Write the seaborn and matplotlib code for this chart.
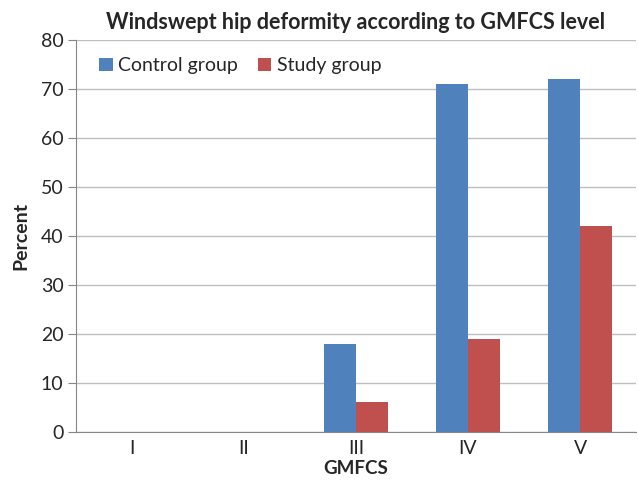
import matplotlib
matplotlib.use("Agg")
import matplotlib.pyplot as plt
import seaborn as sns
import pandas as pd

categories = ["I", "II", "III", "IV", "V"]
control_group = [0, 0, 18, 71, 72]
study_group = [0, 0, 6.2, 19, 42]
series_names = ["Control group", "Study group"]
yticks = [0, 10, 20, 30, 40, 50, 60, 70, 80]

df = pd.DataFrame({
    "GMFCS": categories * 2,
    "Percent": control_group + study_group,
    "Group": [series_names[0]] * len(categories) + [series_names[1]] * len(categories),
})

sns.set_style("white")
plt.rcParams["font.family"] = ["Lato", "DejaVu Sans"]

fig = plt.figure(figsize=(6.38, 4.86), dpi=100)
ax = fig.add_axes([0.119, 0.111, 0.878, 0.807])

sns.barplot(data=df, x="GMFCS", y="Percent", hue="Group", order=categories,
            hue_order=series_names, palette=["#4F81BD", "#C0504D"],
            width=0.57, saturation=1, linewidth=0, ax=ax, legend=True)

ax.set_ylim(0, 80)
ax.set_yticks(yticks)
ax.yaxis.grid(True, color="#BFBFBF", linewidth=1)
ax.set_axisbelow(True)
for s in ["top", "right"]:
    ax.spines[s].set_visible(False)
ax.spines["left"].set_color("#868686")
ax.spines["bottom"].set_color("#868686")
ax.tick_params(axis="y", which="major", length=6, color="#868686", labelsize=14, left=True, pad=3)
ax.tick_params(axis="x", length=0, labelsize=14, pad=6)
ax.set_xlabel("GMFCS", fontsize=13.5, fontweight="bold", labelpad=2)
ax.set_ylabel("Percent", fontsize=14, fontweight="bold", labelpad=8)
ax.set_title("Windswept hip deformity according to GMFCS level", fontsize=15.5,
             fontweight="bold", pad=8)

leg = ax.legend(loc="upper left", bbox_to_anchor=(0.01, 1.0), frameon=False, ncol=2,
                fontsize=14, handlelength=0.7, handleheight=0.7, handletextpad=0.3,
                columnspacing=1.0)

fig.savefig("out.png", dpi=100)
